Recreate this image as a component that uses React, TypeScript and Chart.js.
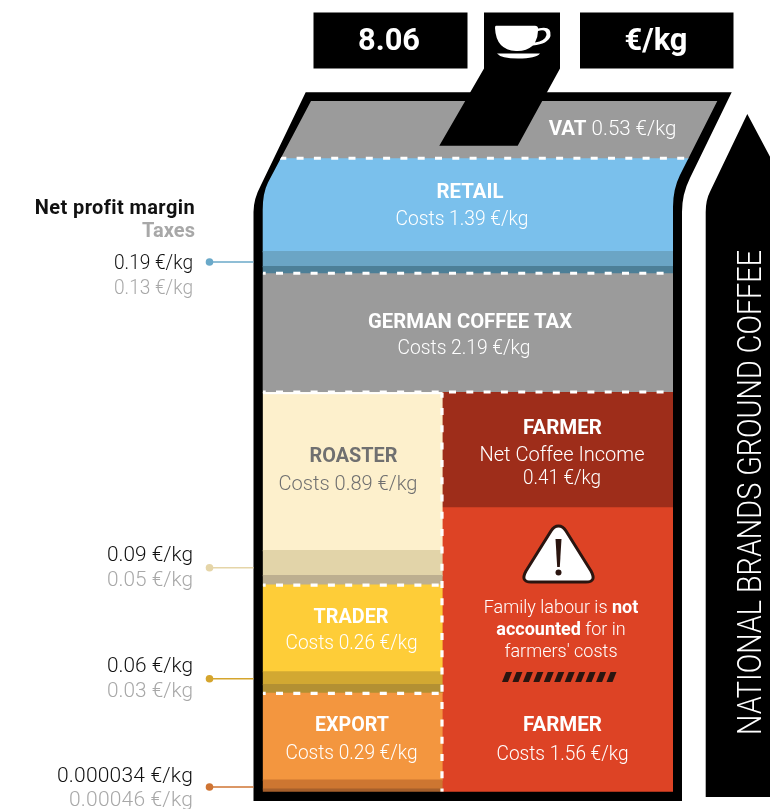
import React, { useEffect, useRef } from "react";
import { Chart, registerables } from "chart.js";

Chart.register(...registerables);

// Drawn height of each band, as a share (%) of the bag's inner height.
const sharedNames = ["German coffee tax", "Retail taxes", "Retail margin", "Retail costs", "VAT"];
const sharedBands = [17.19, 1.06, 2.17, 13.42, 8.4];
const sharedColours = ["#9b9b9b", "#4d7f97", "#6ba5c5", "#7ac0ec", "#9b9b9b"];

const leftNames = [
  "Export taxes", "Export margin", "Export costs",
  "Trader taxes", "Trader margin", "Trader costs",
  "Roaster taxes", "Roaster margin", "Roaster costs",
];
const leftBands = [0.39, 1.3, 12.55, 1.25, 1.88, 12.55, 1.35, 3.62, 22.88];
const leftColours = [
  "#a65f2b", "#cd7631", "#f3963f",
  "#b39033", "#d2a832", "#fecd38",
  "#bdaf90", "#e2d4a9", "#fdf0cc",
];

const rightNames = ["Farmer costs", "Farmer net coffee income"];
const rightBands = [41.08, 16.69];
const rightColours = ["#dd4325", "#9e2d1a"];

// Euro values printed beside the bag, top to bottom.
const marginLabels = ["0.19 €/kg", "0.09 €/kg", "0.06 €/kg", "0.000034 €/kg"];
const taxLabels = ["0.13 €/kg", "0.05 €/kg", "0.03 €/kg", "0.00046 €/kg"];
const leaderColours = ["#6aa9c9", "#e5d5a8", "#d5a52d", "#cf7433"];

const LIGHT = "300 20.5px Roboto";
const BOLD = "700 20.5px Roboto";
const DARK = "#2a1510";

type Seg = [string, string];

function App() {
  const ref = useRef<HTMLCanvasElement | null>(null);

  useEffect(() => {
    const canvas = ref.current;
    if (!canvas) return;

    const pxX = 4.1; // canvas pixels per x-unit
    const leftW = 43.66;
    const rightW = 100 - leftW;

    const build = (names: string[], bands: number[], colours: string[], start: number, xc: number, w: number) => {
      let lo = start;
      return names.map((name, i) => {
        const hi = lo + bands[i];
        const d = {
          label: name,
          data: [{ x: xc, y: [lo, hi] }],
          backgroundColor: colours[i],
          borderWidth: 0,
          inflateAmount: 0.6,
          grouped: false,
          barPercentage: 100,
          categoryPercentage: 1,
          maxBarThickness: w * pxX,
        };
        lo = hi;
        return d;
      });
    };
    const sum = (a: number[]) => a.reduce((s, v) => s + v, 0);
    const columnTop = sum(leftBands);

    const datasets = [
      ...build(leftNames, leftBands, leftColours, 0, leftW / 2, leftW),
      ...build(rightNames, rightBands, rightColours, 0, leftW + rightW / 2, rightW),
      // the shared layers run wider than the bag's body and are cut by its slanted shoulders
      ...build(sharedNames, sharedBands, sharedColours, columnTop, 54, 124),
    ];

    const innerPath = (c: CanvasRenderingContext2D) => {
      c.beginPath();
      c.moveTo(311, 101);
      c.lineTo(717.3, 101);
      c.lineTo(680, 175);
      c.quadraticCurveTo(673, 189, 673, 207);
      c.lineTo(673, 791.7);
      c.lineTo(262.7, 791.7);
      c.lineTo(262.7, 210);
      c.quadraticCurveTo(262.7, 193, 268, 182.5);
      c.closePath();
    };

    const decor = {
      id: "decor",
      beforeDatasetsDraw(chart: any) {
        const c: CanvasRenderingContext2D = chart.ctx;
        c.save();
        c.fillStyle = "#000";
        c.beginPath();
        c.moveTo(305.7, 92.3);
        c.lineTo(731.7, 92.3);
        c.lineTo(690, 178);
        c.quadraticCurveTo(682, 194, 682, 212);
        c.lineTo(682, 801);
        c.lineTo(253.5, 801);
        c.lineTo(253.5, 212);
        c.quadraticCurveTo(253.5, 199, 261, 185);
        c.closePath();
        c.fill();
        c.restore();
        c.save();
        innerPath(c);
        c.clip();
      },
      afterDatasetsDraw(chart: any) {
        const c: CanvasRenderingContext2D = chart.ctx;
        const ys = chart.scales.y;
        const xs = chart.scales.x;
        const px = (v: number) => ys.getPixelForValue(v);
        const L = xs.getPixelForValue(0);
        const M = xs.getPixelForValue(leftW);
        const R = xs.getPixelForValue(100);

        const dash = (x0: number, y0: number, x1: number, y1: number, offset = 4.3) => {
          c.save();
          c.strokeStyle = "#fff";
          c.lineWidth = 3.2;
          c.setLineDash([7, 10.3]);
          c.lineDashOffset = offset;
          c.beginPath();
          c.moveTo(x0, y0);
          c.lineTo(x1, y1);
          c.stroke();
          c.restore();
        };
        const s = (n: number, a: number[]) => sum(a.slice(0, n));
        // between stages
        c.fillStyle = "#fff";
        c.fillRect(L, px(columnTop) - 0.5, M - L, 2);
        dash(L, px(columnTop + sharedBands[0]) - 0.7, R, px(columnTop + sharedBands[0]) - 0.7);
        dash(L, px(columnTop + s(4, sharedBands)) - 0.7, R + 30, px(columnTop + s(4, sharedBands)) - 0.7, 1);
        dash(L, px(columnTop) - 0.7, R, px(columnTop) - 0.7);
        dash(L, px(s(3, leftBands)), M, px(s(3, leftBands)));
        dash(L, px(s(6, leftBands)), M, px(s(6, leftBands)));
        dash(M, px(columnTop), M, px(0), 2);
        c.restore(); // bag clip

        const drawSegs = (segs: Seg[], cx: number, cy: number, colour: string) => {
          c.textBaseline = "middle";
          c.textAlign = "left";
          c.fillStyle = colour;
          let total = 0;
          segs.forEach(([t, f]) => {
            c.font = f;
            total += c.measureText(t).width;
          });
          let x = cx - total / 2;
          segs.forEach(([t, f]) => {
            c.font = f;
            c.fillText(t, x, cy + 1.5);
            x += c.measureText(t).width;
          });
        };
        // Draws text at the width: tracked out if short, squeezed if long.
        const text = (t: string, cx: number, cy: number, font: string, colour: string, target?: number, align: CanvasTextAlign = "center") => {
          c.save();
          c.font = font;
          c.fillStyle = colour;
          c.textAlign = align;
          c.textBaseline = "middle";
          const w = c.measureText(t).width;
          if (target && w > target) {
            c.fillText(t, cx, cy + 1.5, target);
          } else {
            if (target) (c as any).letterSpacing = `${(target - w) / t.length}px`;
            c.fillText(t, cx, cy + 1.5);
          }
          c.restore();
        };

        // header boxes and filler slot
        c.fillStyle = "#000";
        c.fillRect(313.5, 12.5, 154, 56);
        c.fillRect(580, 12.5, 153.5, 56);
        c.beginPath();
        c.moveTo(484, 12.5);
        c.lineTo(560, 12.5);
        c.lineTo(560, 68.5);
        c.lineTo(517.7, 145.7);
        c.lineTo(439.3, 145.7);
        c.lineTo(484, 68.5);
        c.closePath();
        c.fill();
        text("8.06", 389, 40.5, "700 31px Roboto", "#fff", 62);
        text("€/kg", 656, 40.5, "700 31px Roboto", "#fff", 63);

        // cup
        c.fillStyle = "#fff";
        c.beginPath();
        c.moveTo(496, 25.7);
        c.lineTo(535, 25.7);
        c.quadraticCurveTo(538, 25.7, 538, 28.5);
        c.quadraticCurveTo(552, 25, 550.5, 36);
        c.quadraticCurveTo(548, 44, 533, 45.5);
        c.quadraticCurveTo(526, 51.5, 516, 51);
        c.quadraticCurveTo(496, 50, 495, 28);
        c.quadraticCurveTo(495, 25.7, 496, 25.7);
        c.closePath();
        c.fill();
        c.fillStyle = "#000";
        c.beginPath();
        c.moveTo(538, 31);
        c.quadraticCurveTo(546.5, 28.5, 546.5, 35);
        c.quadraticCurveTo(545, 41, 535, 42.5);
        c.quadraticCurveTo(538, 37, 538, 31);
        c.closePath();
        c.fill();
        c.fillStyle = "#fff";
        c.beginPath();
        c.moveTo(497, 53.5);
        c.lineTo(540, 53.5);
        c.quadraticCurveTo(536, 58.5, 518, 58.5);
        c.quadraticCurveTo(501, 58.5, 497, 53.5);
        c.closePath();
        c.fill();

        // side arrow
        c.fillStyle = "#000";
        c.beginPath();
        c.moveTo(747.3, 114);
        c.lineTo(770, 156.7);
        c.lineTo(770, 797);
        c.lineTo(705.7, 797);
        c.lineTo(705.7, 212);
        c.quadraticCurveTo(705.7, 200, 710, 191.7);
        c.closePath();
        c.fill();
        c.save();
        c.translate(751.5, 492.5);
        c.rotate(-Math.PI / 2);
        text("NATIONAL BRANDS GROUND COFFEE", 0, 0, "300 33px Roboto", "#fff", 485);
        c.restore();

        // labels inside the bag
        drawSegs([["VAT ", BOLD], ["0.53 €/kg", LIGHT]], 612.5, 128.5, "#fff");
        text("RETAIL", 470, 191.5, BOLD, "#fff", 67);
        text("Costs 1.39 €/kg", 462, 218, LIGHT, "#fff", 133);
        text("GERMAN COFFEE TAX", 470, 321, BOLD, "#fff", 204);
        text("Costs 2.19 €/kg", 464, 347, LIGHT, "#fff", 133);
        text("ROASTER", 353.5, 455, BOLD, "#707070", 88);
        text("Costs 0.89 €/kg", 348, 483, LIGHT, "#707070", 139);
        text("TRADER", 351, 616, BOLD, "#fff", 75);
        text("Costs 0.26 €/kg", 351.5, 642, LIGHT, "#fff", 132);
        text("EXPORT", 352, 724, BOLD, "#fff", 74);
        text("Costs 0.29 €/kg", 351.5, 752, LIGHT, "#fff", 132);
        text("FARMER", 562.5, 427, BOLD, "#fff", 79);
        text("Net Coffee Income", 562, 454, LIGHT, "#fff", 165);
        text("0.41 €/kg", 562, 477, LIGHT, "#fff", 78);
        text("FARMER", 562.5, 724, BOLD, "#fff", 79);
        text("Costs 1.56 €/kg", 562.5, 753, LIGHT, "#fff", 132);

        const NOTE = "300 18px Roboto";
        const NOTEB = "700 18px Roboto";
        drawSegs([["Family labour is ", NOTE], ["not", NOTEB]], 561, 607, "#fff");
        drawSegs([["accounted", NOTEB], [" for in", NOTE]], 561, 629, "#fff");
        drawSegs([["farmers' costs", NOTE]], 561, 651, "#fff");

        // warning triangle
        c.fillStyle = "#fff";
        c.strokeStyle = DARK;
        c.lineWidth = 3;
        c.lineJoin = "round";
        c.beginPath();
        c.moveTo(558.5, 526);
        c.quadraticCurveTo(554, 526, 551, 531);
        c.lineTo(526, 571);
        c.quadraticCurveTo(520, 582, 531, 582);
        c.lineTo(586, 582);
        c.quadraticCurveTo(597, 582, 591, 571);
        c.lineTo(566, 531);
        c.quadraticCurveTo(563, 526, 558.5, 526);
        c.closePath();
        c.fill();
        c.stroke();
        c.fillStyle = DARK;
        c.beginPath();
        c.moveTo(555.5, 539);
        c.lineTo(561.5, 539);
        c.lineTo(559.8, 567);
        c.lineTo(557.2, 567);
        c.closePath();
        c.fill();
        c.beginPath();
        c.arc(558.5, 572.5, 3, 0, Math.PI * 2);
        c.fill();

        // hatch
        for (let i = 0; i < 11; i++) {
          const x = 502 + i * 10.45;
          c.beginPath();
          c.moveTo(x + 4, 672);
          c.lineTo(x + 10, 672);
          c.lineTo(x + 6, 682);
          c.lineTo(x, 682);
          c.closePath();
          c.fill();
        }

        // margin legend and leaders
        text("Net profit margin", 195, 207, "700 20px Roboto", "#111", 160, "right");
        text("Taxes", 195, 230, "700 20px Roboto", "#a8a8a8", 53, "right");
        const leaderOffsets = [4.7, 8, 6, 2];
        const leaderY = [
          px(columnTop + sharedBands[0] + sharedBands[1]),
          px(s(7, leftBands)),
          px(s(4, leftBands)),
          px(s(1, leftBands)),
        ].map((y, i) => y - leaderOffsets[i]);
        const marginY = [262, 554, 665, 775];
        const taxY = [287, 579, 690, 799];
        const marginW = [79, 86, 86, 136];
        const taxW = [79, 86, 86, 124];
        leaderY.forEach((y, i) => {
          c.strokeStyle = leaderColours[i];
          c.lineWidth = 1.5;
          c.beginPath();
          c.moveTo(209, y);
          c.lineTo(253.5, y);
          c.stroke();
          c.fillStyle = leaderColours[i];
          c.beginPath();
          c.arc(209.5, y, 3.8, 0, Math.PI * 2);
          c.fill();
          text(marginLabels[i], 193, marginY[i], "300 21px Roboto", "#111", marginW[i], "right");
          text(taxLabels[i], 193, taxY[i], "300 21px Roboto", "#a8a8a8", taxW[i], "right");
        });
      },
    };

    const pxY = 6.907; // canvas pixels per y-unit
    const chart = new Chart(canvas, {
      type: "bar",
      data: { datasets: datasets as any },
      plugins: [decor],
      options: {
        responsive: false,
        animation: false,
        layout: { padding: 0 },
        plugins: { legend: { display: false }, tooltip: { enabled: false }, title: { display: false } },
        scales: {
          x: {
            type: "linear",
            display: false,
            offset: false,
            min: -263 / pxX,
            max: (770 - 263) / pxX,
            grid: { display: false },
          },
          y: {
            type: "linear",
            display: false,
            min: -(809 - 791.7) / pxY,
            max: 791.7 / pxY,
            grid: { display: false },
          },
        },
      },
    } as any);
    return () => chart.destroy();
  }, []);

  return (
    <div style={{ position: "absolute", left: 0, top: 0, width: 770, height: 809, background: "#fff" }}>
      <canvas ref={ref} width={770} height={809} style={{ display: "block" }} />
    </div>
  );
}

export default App;
